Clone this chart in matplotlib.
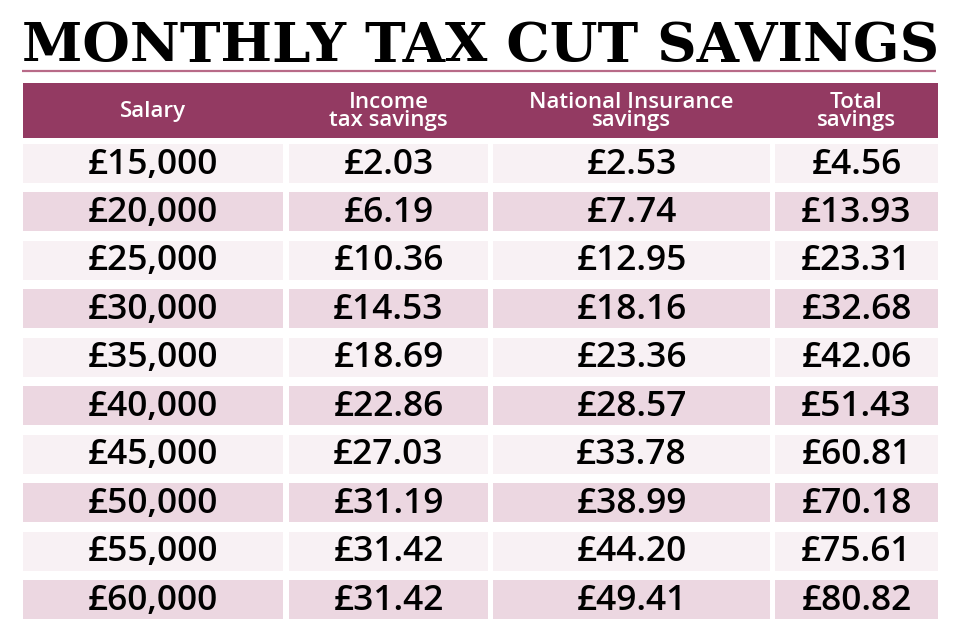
import matplotlib
matplotlib.use('Agg')
import matplotlib.pyplot as plt
from matplotlib.patches import Rectangle

# datos de la tabla
title = 'MONTHLY TAX CUT SAVINGS'
headers = ['Salary', 'Income\ntax savings', 'National Insurance\nsavings', 'Total\nsavings']
salary = ['£15,000', '£20,000', '£25,000', '£30,000', '£35,000',
          '£40,000', '£45,000', '£50,000', '£55,000', '£60,000']
income_tax = ['£2.03', '£6.19', '£10.36', '£14.53', '£18.69',
              '£22.86', '£27.03', '£31.19', '£31.42', '£31.42']
nat_ins = ['£2.53', '£7.74', '£12.95', '£18.16', '£23.36',
           '£28.57', '£33.78', '£38.99', '£44.20', '£49.41']
total = ['£4.56', '£13.93', '£23.31', '£32.68', '£42.06',
         '£51.43', '£60.81', '£70.18', '£75.61', '£80.82']

columns = [salary, income_tax, nat_ins, total]

# layout (pixeles)
col_left = [23, 289, 493, 775]
col_right = [283, 488, 770, 938]
row_top0 = 144
row_pitch = 48.45
row_h = 39
header_top, header_bot = 83, 138

header_col = '#933a62'
light_col = '#f8f1f4'
dark_col = '#ecd7e1'

fig = plt.figure(figsize=(9.6, 6.4), dpi=100)
ax = fig.add_axes([0, 0, 1, 1])
ax.set_xlim(0, 960)
ax.set_ylim(640, 0)
ax.axis('off')

# titulo, ajustado al ancho
t = ax.text(22, 62, title, fontsize=40, fontweight='bold', family='DejaVu Serif',
            color='black', ha='left', va='baseline')
fig.canvas.draw()
bb = t.get_window_extent()
t.set_fontsize(40 * (918 / bb.width))

# linea bajo el titulo
ax.plot([22, 936], [70.5, 70.5], color='#b86a88', lw=1.6, solid_capstyle='butt')

# cabecera
ax.add_patch(Rectangle((col_left[0], header_top), col_right[-1] - col_left[0],
                       header_bot - header_top, color=header_col, lw=0))
for i, h in enumerate(headers):
    xc = (col_left[i] + col_right[i]) / 2
    ax.text(xc, (header_top + header_bot) / 2 + 1, h, fontsize=16, color='white',
            ha='center', va='center', family='Open Sans', fontweight='semibold',
            linespacing=0.85)

# filas
for r in range(len(salary)):
    top = row_top0 + r * row_pitch
    fc = light_col if r % 2 == 0 else dark_col
    for c, vals in enumerate(columns):
        ax.add_patch(Rectangle((col_left[c], top), col_right[c] - col_left[c], row_h,
                               color=fc, lw=0))
        xc = (col_left[c] + col_right[c]) / 2
        ax.text(xc, top + row_h / 2 + 1, vals[r], fontsize=25.5, color='black',
                ha='center', va='center', family='Open Sans', fontweight='semibold')

fig.savefig('out.png', dpi=100)
